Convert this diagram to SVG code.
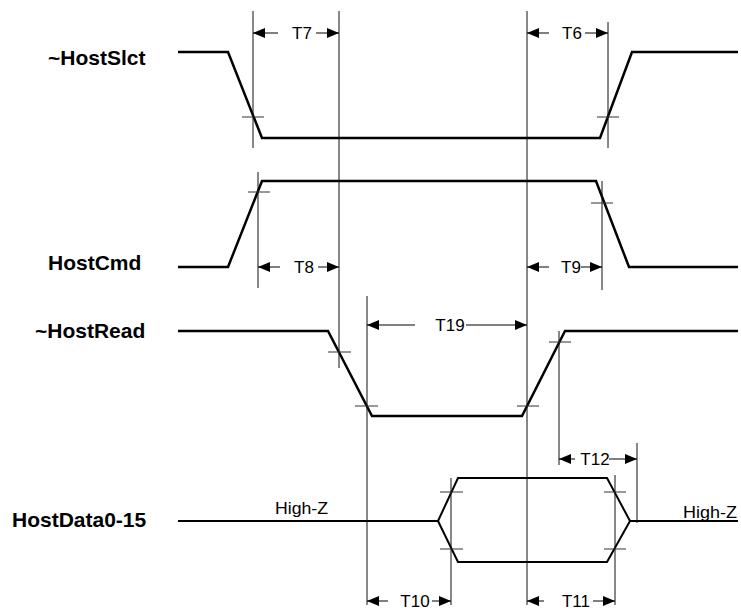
<svg xmlns="http://www.w3.org/2000/svg" width="741" height="610" viewBox="0 0 741 610">
<style>
.sig{fill:none;stroke:#000;stroke-width:2.5;stroke-linejoin:miter}
.ref{stroke:#111;stroke-width:1;fill:none}
.tick{stroke:#333;stroke-width:1;fill:none}
.dim{stroke:#000;stroke-width:1;fill:none}
.lbl{font-family:"Liberation Sans",Arial,sans-serif;font-weight:bold;font-size:21px;fill:#000}
.t{font-family:"Liberation Sans",Arial,sans-serif;font-size:17px;fill:#000}
</style>
<defs>
<marker id="ah" viewBox="0 0 12 10" refX="12" refY="5" markerWidth="12" markerHeight="10" markerUnits="userSpaceOnUse" orient="auto">
<path d="M0,0 L12,5 L0,10 Z" fill="#000"/>
</marker>
</defs>
<rect width="741" height="610" fill="#fff"/>
<g id="labels">
<text class="lbl" x="48" y="65">~HostSlct</text>
<text class="lbl" x="48" y="270">HostCmd</text>
<text class="lbl" x="35" y="338">~HostRead</text>
<text class="lbl" x="12" y="527">HostData0-15</text>
</g>
<g id="signals">
<polyline id="hostslct" class="sig" points="178,52 228,52 262,138 600,138 632,52 738,52"/>
<polyline id="hostcmd" class="sig" points="178,267 228,267 262,181 596,181 629,267 738,267"/>
<polyline id="hostread" class="sig" points="178,331 328,331 372,416 522,416 565,331 738,331"/>
<g id="hostdata">
<polyline class="sig" points="178,521 438,521 458,478 607,478 630,521 738,521" style="stroke-width:2"/>
<polyline class="sig" points="438,521 458,562 607,562 630,521" style="stroke-width:2"/>
<text class="t" x="275" y="514" textLength="53" lengthAdjust="spacingAndGlyphs">High-Z</text>
<text class="t" x="683" y="518" textLength="54" lengthAdjust="spacingAndGlyphs">High-Z</text>
</g>
</g>
<g id="connectors">
<g id="reflines">
<line class="ref" x1="253" y1="11" x2="253" y2="148"/>
<line class="ref" x1="339" y1="11" x2="339" y2="368"/>
<line class="ref" x1="527" y1="11" x2="527" y2="605"/>
<line class="ref" x1="608" y1="22" x2="608" y2="148"/>
<line class="ref" x1="258" y1="172" x2="258" y2="288"/>
<line class="ref" x1="602" y1="181" x2="602" y2="290"/>
<line class="ref" x1="367" y1="296" x2="367" y2="605"/>
<line class="ref" x1="559" y1="331" x2="559" y2="465"/>
<line class="ref" x1="451" y1="478" x2="451" y2="605"/>
<line class="ref" x1="615" y1="475" x2="615" y2="605"/>
<line class="ref" x1="637" y1="443" x2="637" y2="523"/>
</g>
<g id="ticks">
<line class="tick" x1="242" y1="117" x2="264" y2="117"/>
<line class="tick" x1="597" y1="117" x2="619" y2="117"/>
<line class="tick" x1="248" y1="192" x2="270" y2="192"/>
<line class="tick" x1="591" y1="203" x2="613" y2="203"/>
<line class="tick" x1="328" y1="352" x2="351" y2="352"/>
<line class="tick" x1="355" y1="406" x2="378" y2="406"/>
<line class="tick" x1="517" y1="406" x2="539" y2="406"/>
<line class="tick" x1="549" y1="342" x2="571" y2="342"/>
<line class="tick" x1="440" y1="492" x2="463" y2="492"/>
<line class="tick" x1="440" y1="549" x2="463" y2="549"/>
<line class="tick" x1="604" y1="492" x2="626" y2="492"/>
<line class="tick" x1="604" y1="549" x2="626" y2="549"/>
</g>
<g id="dims">
<line class="dim" x1="278" y1="33" x2="253" y2="33" marker-end="url(#ah)"/>
<line class="dim" x1="316" y1="33" x2="339" y2="33" marker-end="url(#ah)"/>
<text class="t" x="302" y="39" text-anchor="middle">T7</text>
<line class="dim" x1="549" y1="33" x2="527" y2="33" marker-end="url(#ah)"/>
<line class="dim" x1="585" y1="33" x2="608" y2="33" marker-end="url(#ah)"/>
<text class="t" x="572" y="39" text-anchor="middle">T6</text>
<line class="dim" x1="280" y1="267" x2="258" y2="267" marker-end="url(#ah)"/>
<line class="dim" x1="318" y1="267" x2="339" y2="267" marker-end="url(#ah)"/>
<text class="t" x="304" y="273" text-anchor="middle">T8</text>
<line class="dim" x1="549" y1="267" x2="527" y2="267" marker-end="url(#ah)"/>
<line class="dim" x1="581" y1="267" x2="602" y2="267" marker-end="url(#ah)"/>
<text class="t" x="571" y="273" text-anchor="middle">T9</text>
<line class="dim" x1="415" y1="325" x2="367" y2="325" marker-end="url(#ah)"/>
<line class="dim" x1="466" y1="325" x2="527" y2="325" marker-end="url(#ah)"/>
<text class="t" x="450" y="331" text-anchor="middle">T19</text>
<line class="dim" x1="388" y1="601" x2="367" y2="601" marker-end="url(#ah)"/>
<line class="dim" x1="432" y1="601" x2="451" y2="601" marker-end="url(#ah)"/>
<text class="t" x="415" y="607" text-anchor="middle">T10</text>
<line class="dim" x1="544" y1="601" x2="527" y2="601" marker-end="url(#ah)"/>
<line class="dim" x1="593" y1="601" x2="615" y2="601" marker-end="url(#ah)"/>
<text class="t" x="576" y="607" text-anchor="middle">T11</text>
<line class="dim" x1="575" y1="459" x2="559" y2="459" marker-end="url(#ah)"/>
<line class="dim" x1="609" y1="459" x2="637" y2="459" marker-end="url(#ah)"/>
<text class="t" x="595" y="465" text-anchor="middle">T12</text>
</g>
</g>
</svg>
